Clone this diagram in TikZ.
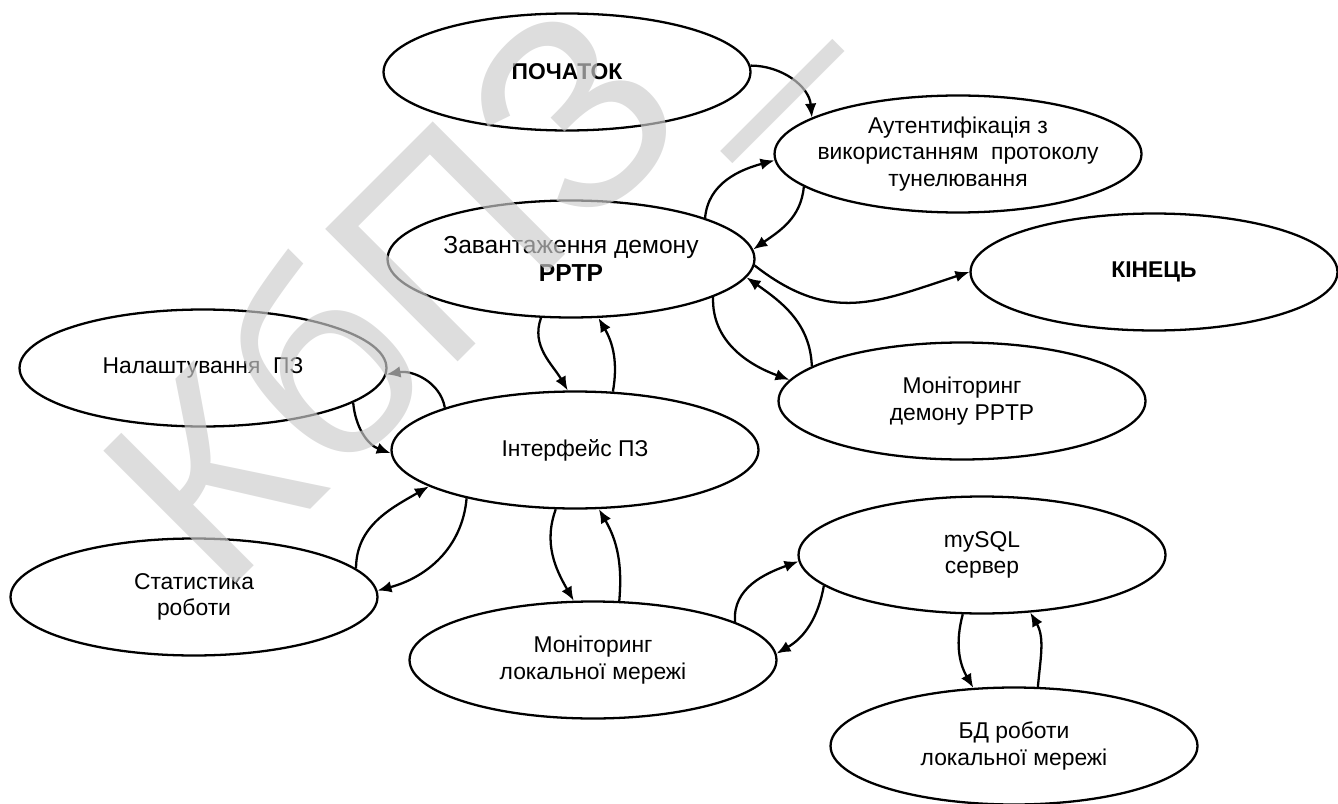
\documentclass[tikz,border=0pt]{standalone}
\usepackage{fontspec}
\setmainfont{Liberation Sans}
\usetikzlibrary{shapes.geometric,arrows.meta}
\begin{document}
\begin{tikzpicture}[x=0.02cm,y=0.02cm,
  ell/.style={draw,ellipse,line width=1.3pt,minimum width=7.34cm,minimum height=2.34cm,inner sep=0pt},
  lbl/.style={align=center,font=\fontsize{13}{15}\selectfont,inner sep=0pt},
  blbl/.style={align=center,font=\fontsize{13}{15}\selectfont\bfseries,inner sep=0pt},
  arr/.style={line width=1.3pt,-{Latex[length=2.8mm,width=2.3mm]}},
  wm/.style={text=black!20,text opacity=0.67,inner sep=0pt,font=\fontsize{155}{155}\selectfont}
  ]
\useasboundingbox (0,0) rectangle (1338,-804);
% ellipses
\node[ell] (start) at (567,-72) {};
\node[ell] (auth)  at (958,-154) {};
\node[ell] (zav)   at (571,-259) {};
\node[ell] (kin)   at (1154,-272) {};
\node[ell] (nal)   at (203,-368) {};
\node[ell] (intf)  at (575,-450) {};
\node[ell] (mond)  at (962,-401) {};
\node[ell] (stat)  at (194,-597) {};
\node[ell] (mlm)   at (593,-660) {};
\node[ell] (mysql) at (982,-555) {};
\node[ell] (bd)    at (1014,-746) {};
% labels
\node[blbl] (startT) at (start) {ПОЧАТОК};
\node[lbl] (authT) at (auth) {Аутентифікація з\\використанням\ \ протоколу\\тунелювання};
\node[lbl,font=\fontsize{14}{15.5}\selectfont] (zavT) at (zav) {Завантаження демону\\\textbf{PPTP}};
\node[blbl] (kinT) at (kin) {КІНЕЦЬ};
\node[lbl] (nalT) at (nal) {Налаштування\ \ ПЗ};
\node[lbl] (intfT) at (intf) {Інтерфейс ПЗ};
\node[lbl] (mondT) at (mond) {Моніторинг\\демону PPTP};
\node[lbl] (statT) at (stat) {Статистика\\роботи};
\node[lbl] (mlmT) at (mlm) {Моніторинг\\локальної мережі};
\node[lbl] (mysqlT) at (mysql) {mySQL\\сервер};
\node[lbl] (bdT) at (bd) {БД роботи\\локальної мережі};
% connectors
\draw[arr] (start.2) to[out=0,in=95] (auth.166);
\draw[arr] (zav.17) to[out=85,in=195] (auth.182);
\draw[arr] (auth.192) to[out=265,in=35] (zav.3);
\draw[arr] (zav.358) to[out=-38,in=198,looseness=1.15] (kin.180);
\draw[arr] (zav.345) to[out=268,in=160] (mond.173);
\draw[arr] (mond.167) to[out=92,in=325] (zav.354);
\draw[arr] (zav.243) to[out=250,in=120] (intf.97);
\draw[arr] (intf.57) to[out=80,in=300] (zav.295);
\draw[arr] (intf.162) to[out=100,in=10] (nal.358);
\draw[arr] (nal.347) to[out=275,in=160] (intf.181);
\draw[arr] (stat.10) to[out=90,in=210] (intf.194);
\draw[arr] (intf.204) to[out=265,in=15] (stat.2);
\draw[arr] (intf.252) to[out=250,in=120] (mlm.108);
\draw[arr] (mlm.66) to[out=85,in=300] (intf.292);
\draw[arr] (mlm.15) to[out=95,in=200] (mysql.182);
\draw[arr] (mysql.191) to[out=260,in=30] (mlm.2);
\draw[arr] (mysql.252) to[out=255,in=120] (bd.125);
\draw[arr] (bd.68) to[out=85,in=300] (mysql.310);
% watermark
\node[wm,rotate=45,anchor=base west] (wmark) at (220,-600) {КбПЗ\_};
\end{tikzpicture}
\end{document}
